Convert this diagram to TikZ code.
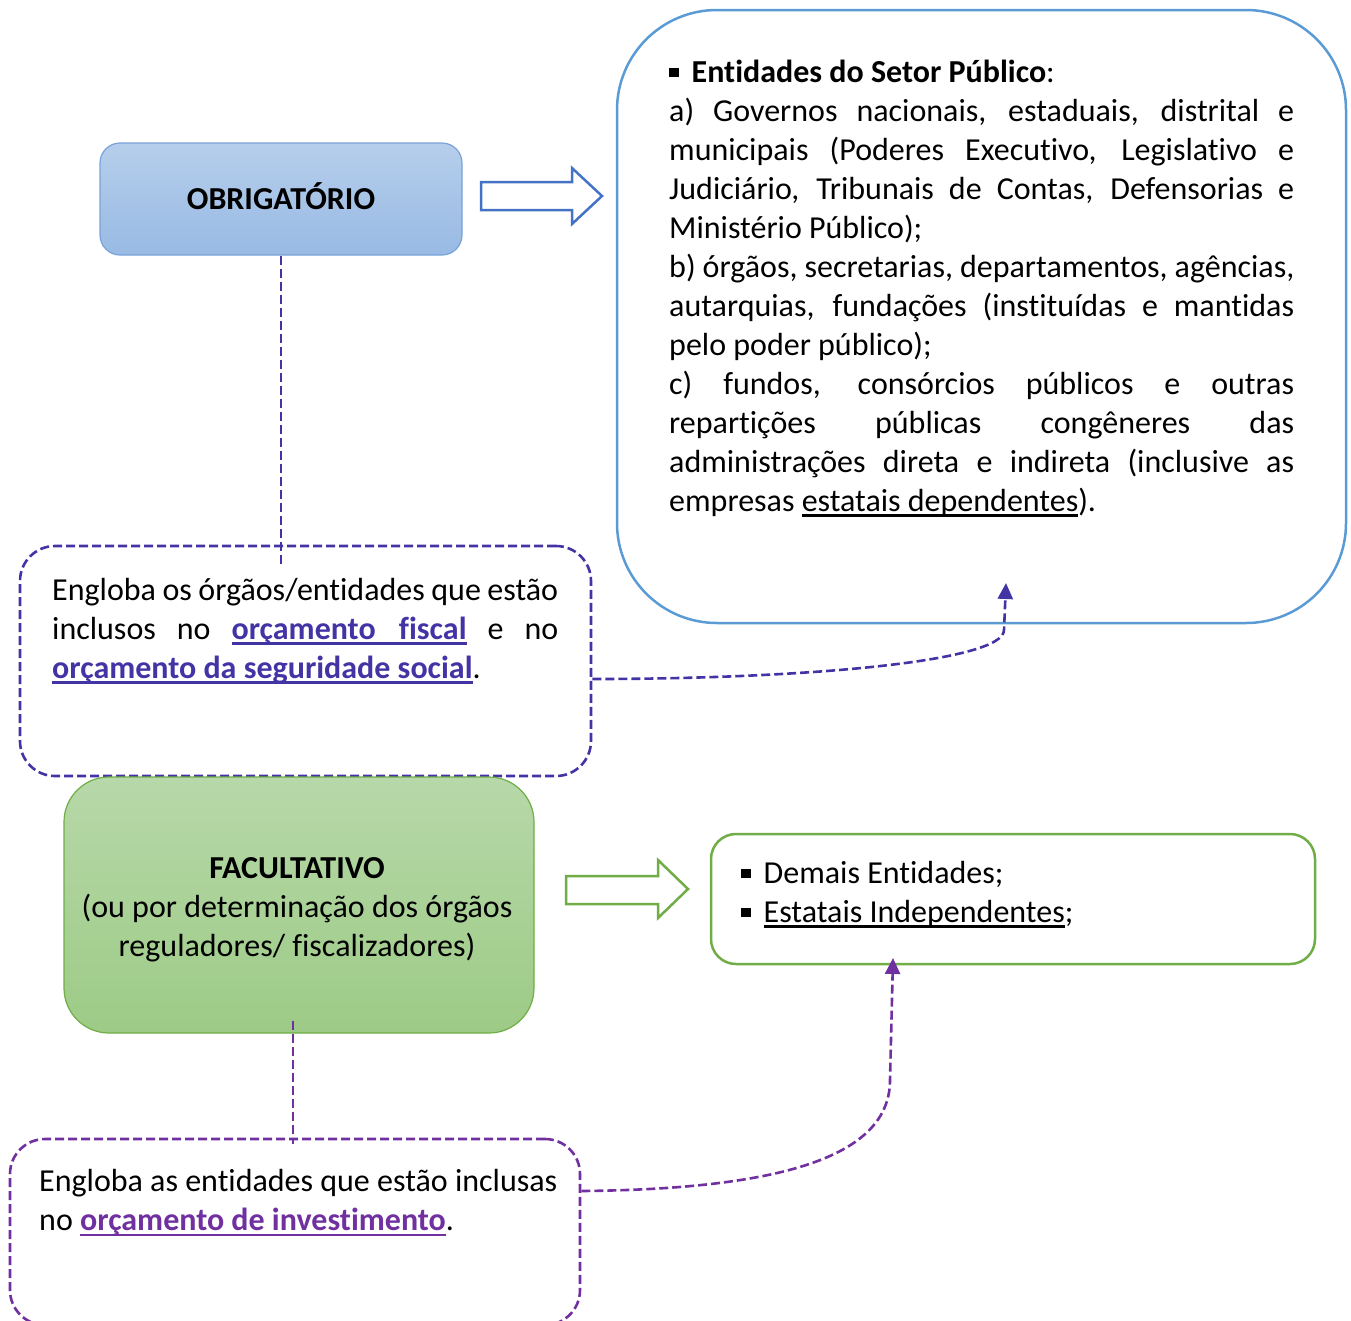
\documentclass[tikz,border=0pt]{standalone}
\usepackage{fontspec}
\setmainfont{Carlito}[Ligatures=NoCommon]
\usetikzlibrary{arrows.meta, positioning}

\definecolor{setorblue}{RGB}{91,155,213}
\definecolor{arrowblue}{RGB}{68,114,196}
\definecolor{obrigtop}{RGB}{182,206,235}
\definecolor{obrigbot}{RGB}{152,186,228}
\definecolor{obrigline}{RGB}{120,162,216}
\definecolor{factop}{RGB}{183,216,169}
\definecolor{facbot}{RGB}{157,203,134}
\definecolor{facgreen}{RGB}{112,173,71}
\definecolor{linkblue}{RGB}{67,52,166}
\definecolor{linkpurple}{RGB}{112,48,160}

% natural spaces, justified line and thick underline
\newcommand{\natsp}{\spaceskip=0pt\xspaceskip=0pt\relax}
\newcommand{\jl}[1]{\makebox[\hsize][s]{\natsp#1}}
\newcommand{\ulx}[1]{\setbox0\hbox{#1}\leavevmode\rlap{\rule[-5.5pt]{\wd0}{2.2pt}}\box0}
\newcommand{\sqbullet}{\rule[5pt]{9.5pt}{9.5pt}}

\begin{document}
\begin{tikzpicture}[x=1pt, y=-1pt,
    box/.style={rectangle, draw, inner sep=0pt},
    txt/.style={font=\fontsize{32}{39}\selectfont, inner sep=0pt, anchor=north west, align=left},
    dashbox/.style={box, line width=2.6pt, dash pattern=on 9pt off 4pt},
    dashline/.style={line width=2.6pt, dash pattern=on 9pt off 4pt},
    link/.style={dashline, -{Triangle[length=16pt,width=15pt]}},
    blockarrow/.style={line width=2.5pt, fill=white, line join=miter}
]
    \useasboundingbox (0,0) rectangle (1351,1320);

    % top part
    \node[box, draw=obrigline, line width=1.2pt, rounded corners=20pt, top color=obrigtop, bottom color=obrigbot,
          minimum width=362pt, minimum height=112pt, font=\fontsize{32}{39}\selectfont\bfseries,
          text height=20pt, text depth=0pt] (obrig) at (281,199) {OBRIGATÓRIO};
    \node[box, draw=setorblue, line width=2.5pt, rounded corners=100pt,
          minimum width=729pt, minimum height=613pt] (setor) at (981.5,316.5) {};
    \draw[blockarrow, draw=arrowblue] (481,182) -- (572,182) -- (572,168) -- (602,196) -- (572,224) -- (572,210) -- (481,210) -- cycle;

    \node[txt, text width=625pt] (setortxt) at (669,54.5) {\natsp\strut\sqbullet\hspace{13pt}\textbf{Entidades do Setor Público}:\\
        \jl{a) Governos nacionais, estaduais, distrital e}\\
        \jl{municipais (Poderes Executivo, Legislativo e}\\
        \jl{Judiciário, Tribunais de Contas, Defensorias e}\\
        Ministério Público);\\
        \jl{b) órgãos, secretarias, departamentos, agências,}\\
        \jl{autarquias, fundações (instituídas e mantidas}\\
        pelo poder público);\\
        \jl{c) fundos, consórcios públicos e outras}\\
        \jl{repartições públicas congêneres das}\\
        \jl{administrações direta e indireta (inclusive as}\\
        empresas \ulx{estatais dependentes}).};

    \node[dashbox, draw=linkblue, rounded corners=35pt, minimum width=571pt, minimum height=230pt] (engl1) at (305.5,661) {};
    \node[txt, text width=506pt] (engl1txt) at (52,572.5) {\natsp\strut\jl{Engloba os órgãos/entidades que estão}\\
        \jl{inclusos no {\color{linkblue}\bfseries\ulx{\makebox[235pt][s]{\natsp orçamento fiscal}}} e no}\\
        {\color{linkblue}\bfseries\ulx{orçamento da seguridade social}}.};

    \draw[dashline, draw=linkblue] (obrig.south) -- (obrig.south |- engl1.north) -- ++(0,22);
    \coordinate (setortip) at (1006,583);
    \draw[link, draw=linkblue] ([yshift=-18pt]engl1.east) .. controls (800,679) and (1004,662) .. (1004,630) -- (setortip);

    % bottom part
    \node[box, draw=facgreen, line width=1.2pt, rounded corners=45pt, top color=factop, bottom color=facbot,
          minimum width=470pt, minimum height=256pt] (fac) at (299,905) {};
    \node[txt, anchor=north, align=center] (factxt) at (297,850.5) {\natsp\strut\textbf{FACULTATIVO}\\
        (ou por determinação dos órgãos\\
        reguladores/ fiscalizadores)};
    \draw[blockarrow, draw=facgreen] (566,876) -- (658,876) -- (658,860) -- (688,889) -- (658,918) -- (658,904) -- (566,904) -- cycle;

    \node[box, draw=facgreen, line width=2.5pt, rounded corners=25pt,
          minimum width=604pt, minimum height=130pt] (demais) at (1013,899) {};
    \node[txt] (demaistxt) at (741,855.5) {\natsp\strut\sqbullet\hspace{13pt}Demais Entidades;\\
        \sqbullet\hspace{13pt}\ulx{Estatais Independentes};};

    \node[dashbox, draw=linkpurple, rounded corners=35pt, minimum width=570pt, minimum height=186pt] (engl2) at (295,1232) {};
    \node[txt] (engl2txt) at (39,1164) {\natsp\strut Engloba as entidades que estão inclusas\\
        no {\color{linkpurple}\bfseries\ulx{orçamento de investimento}}.};

    \draw[dashline, draw=linkpurple] ([xshift=-6pt,yshift=13pt]fac.south) -- ([xshift=-2pt,yshift=-6pt]engl2.north);
    \coordinate (demaistip) at (893,958);
    \draw[link, draw=linkpurple] ([yshift=41pt]engl2.east) .. controls (800,1189) and (890,1150) .. (890,1080) -- (demaistip);
\end{tikzpicture}
\end{document}
